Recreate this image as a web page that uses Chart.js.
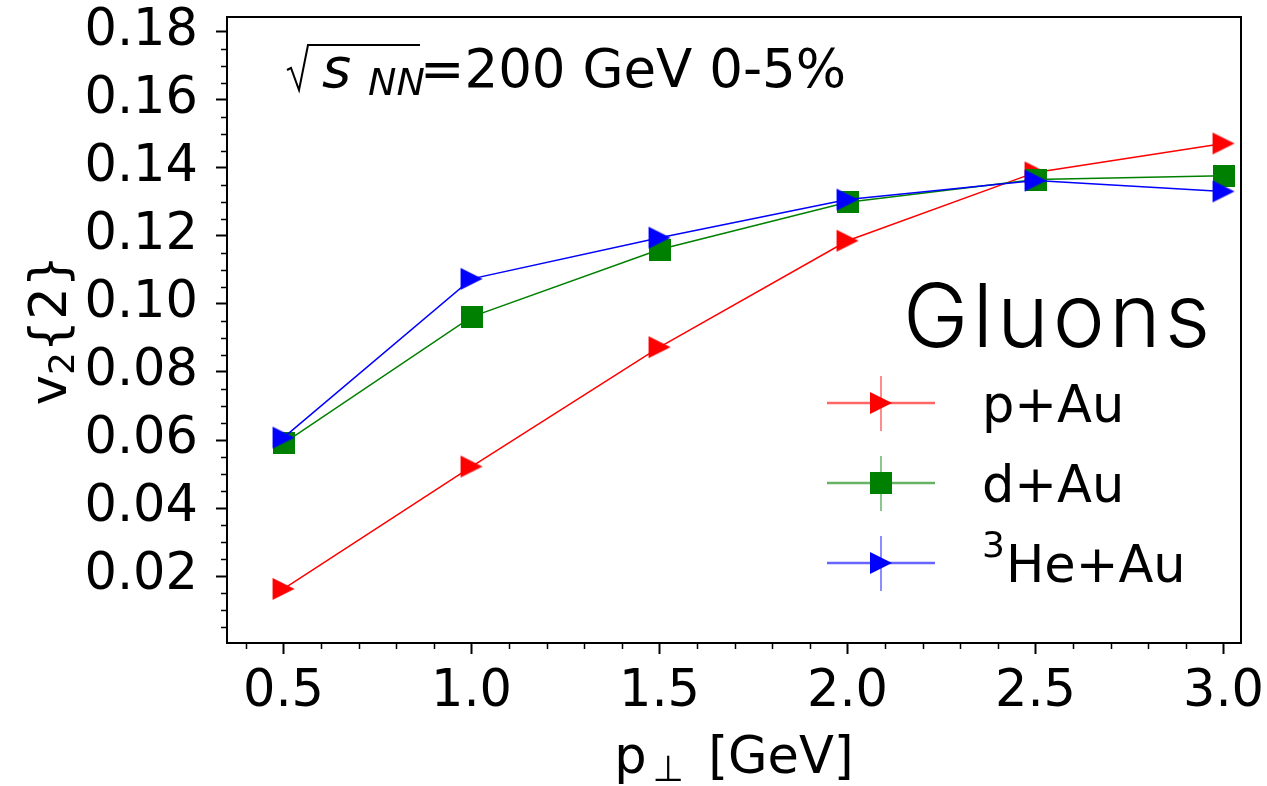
<!DOCTYPE html>
<html>
<head>
<meta charset="utf-8">
<script src="https://cdn.jsdelivr.net/npm/chart.js@4/dist/chart.umd.min.js"></script>
<style>
  body { margin: 0; background: #fff; }
  #wrap { width: 1267px; height: 786px; position: relative; }
</style>
</head>
<body>
<div id="wrap"><canvas id="v2Chart"></canvas></div>
<script>
// p_T bins and v2{2} values
const pT = [0.5, 1.0, 1.5, 2.0, 2.5, 3.0];
const v2pAu = [0.0162, 0.0522, 0.0873, 0.1186, 0.1387, 0.1472];
const v2dAu = [0.0590, 0.0962, 0.1160, 0.1299, 0.1366, 0.1377];
const v2HeAu = [0.0607, 0.1074, 0.1195, 0.1307, 0.1363, 0.1331];

const seriesNames = ['p+Au', 'd+Au', 'He+Au'];
const seriesColors = ['#ff0000', '#008000', '#0000ff'];

const FONT = "'DejaVu Sans', sans-serif";

// matplotlib-like markers as small canvases
function triMarker(color) {
    const c = document.createElement('canvas');
    c.width = 24; c.height = 24;
    const g = c.getContext('2d');
    g.fillStyle = color;
    g.beginPath();
    g.moveTo(1, 1); g.lineTo(23, 12); g.lineTo(1, 23);
    g.closePath();
    g.fill();
    return c;
}
function squareMarker(color) {
    const c = document.createElement('canvas');
    c.width = 22; c.height = 22;
    const g = c.getContext('2d');
    g.fillStyle = color;
    g.fillRect(0, 0, 22, 22);
    return c;
}
const markers = [triMarker(seriesColors[0]), squareMarker(seriesColors[1]), triMarker(seriesColors[2])];

function toPoints(xs, ys) {
    return xs.map((x, i) => ({ x: x, y: ys[i] }));
}

// extra drawing: minor ticks, full frame, legend, labels
const overlay = {
    id: 'overlay',
    afterDraw(chart) {
        const ctx = chart.ctx;
        const a = chart.chartArea;
        const xs = chart.scales.x, ys = chart.scales.y;
        ctx.save();

        // top + right spines
        ctx.strokeStyle = '#000';
        ctx.lineWidth = 2;
        ctx.beginPath();
        ctx.moveTo(a.left, a.top);
        ctx.lineTo(a.right, a.top);
        ctx.lineTo(a.right, a.bottom);
        ctx.stroke();

        // minor ticks
        ctx.lineWidth = 1.5;
        ctx.beginPath();
        for (let i = 4; i <= 30; i++) {
            if (i % 5 === 0) continue;
            const px = Math.round(xs.getPixelForValue(i / 10)) + 0.5;
            if (px < a.left || px > a.right) continue;
            ctx.moveTo(px, a.bottom);
            ctx.lineTo(px, a.bottom + 6);
        }
        for (let i = 1; i <= 36; i++) {
            if (i % 4 === 0) continue;
            const py = Math.round(ys.getPixelForValue(i * 0.005)) + 0.5;
            if (py < a.top || py > a.bottom) continue;
            ctx.moveTo(a.left - 6, py);
            ctx.lineTo(a.left, py);
        }
        ctx.stroke();

        ctx.fillStyle = '#000';
        ctx.textBaseline = 'alphabetic';
        ctx.textAlign = 'left';

        // x title: p_perp [GeV]
        ctx.font = '51px ' + FONT;
        const wP = ctx.measureText('p').width;
        const wRest = ctx.measureText(' [GeV]').width;
        ctx.font = '36px ' + FONT;
        const wPerp = ctx.measureText('\u22A5').width;
        let x0 = (a.left + a.right) / 2 - (wP + 14 + wPerp + wRest) / 2;
        ctx.font = '51px ' + FONT;
        ctx.fillText('p', x0, 773);
        ctx.font = '36px ' + FONT;
        ctx.fillText('\u22A5', x0 + wP + 6, 781);
        ctx.font = '51px ' + FONT;
        ctx.fillText(' [GeV]', x0 + wP + 14 + wPerp, 773);

        // y title: v_2{2}
        ctx.save();
        ctx.translate(66, (a.top + a.bottom) / 2);
        ctx.rotate(-Math.PI / 2);
        ctx.font = '51px ' + FONT;
        const wV = ctx.measureText('v').width;
        const wB = ctx.measureText('{2}').width;
        ctx.font = '36px ' + FONT;
        const wS = ctx.measureText('2').width;
        let t0 = -(wV + wS + wB) / 2;
        ctx.font = '51px ' + FONT;
        ctx.fillText('v', t0, 0);
        ctx.font = '36px ' + FONT;
        ctx.fillText('2', t0 + wV, 8);
        ctx.font = '51px ' + FONT;
        ctx.fillText('{2}', t0 + wV + wS, 0);
        ctx.restore();

        // sqrt(s_NN) = 200 GeV 0-5%
        const base = 87;
        ctx.lineWidth = 2;
        ctx.beginPath();
        ctx.moveTo(287, 70);
        ctx.lineTo(291, 68);
        ctx.lineTo(299, 90);
        ctx.lineTo(308, 45);
        ctx.lineTo(420, 45);
        ctx.stroke();
        ctx.font = 'oblique 56px ' + FONT;
        ctx.fillText('s', 322, base);
        ctx.font = 'oblique 38px ' + FONT;
        ctx.fillText('NN', 368, base + 8);
        ctx.font = '53px ' + FONT;
        ctx.fillText('=200 GeV 0-5%', 420, base);

        // Gluons
        ctx.font = '300 88px Inter, Lato, sans-serif';
        ctx.letterSpacing = '4px';
        ctx.fillText('Gluons', 903, 347);
        ctx.letterSpacing = '0px';

        // legend
        const rows = [403, 483, 563];
        rows.forEach((ly, i) => {
            ctx.strokeStyle = seriesColors[i];
            ctx.globalAlpha = 0.6;
            ctx.lineWidth = 2.5;
            ctx.beginPath();
            ctx.moveTo(827, ly); ctx.lineTo(935, ly);
            ctx.stroke();
            ctx.globalAlpha = 0.45;
            ctx.lineWidth = 2;
            ctx.beginPath();
            ctx.moveTo(881, ly - 27); ctx.lineTo(881, ly + 28);
            ctx.stroke();
            ctx.globalAlpha = 1;
            const m = markers[i];
            ctx.drawImage(m, 881 - m.width / 2, ly - m.height / 2);
            ctx.fillStyle = '#000';
            if (i === 2) {
                ctx.font = '36px ' + FONT;
                ctx.fillText('3', 982, ly - 6);
                ctx.font = '51px ' + FONT;
                ctx.fillText(seriesNames[i], 1006, ly + 19);
            } else {
                ctx.font = '51px ' + FONT;
                ctx.fillText(seriesNames[i], 982, ly + 19);
            }
        });

        ctx.restore();
    }
};

const datasets = [v2pAu, v2dAu, v2HeAu].map((vals, i) => ({
    label: seriesNames[i],
    data: toPoints(pT, vals),
    showLine: true,
    borderColor: seriesColors[i],
    backgroundColor: seriesColors[i],
    borderWidth: 1.5,
    pointStyle: markers[i],
    pointRadius: 11,
    pointHoverRadius: 11,
    order: 3 - i
}));

new Chart(document.getElementById('v2Chart'), {
    type: 'scatter',
    data: { datasets: datasets },
    options: {
        responsive: true,
        maintainAspectRatio: false,
        animation: false,
        layout: { padding: { top: 17, right: 26, left: 0, bottom: 0 } },
        plugins: { legend: { display: false }, tooltip: { enabled: false } },
        scales: {
            x: {
                type: 'linear',
                min: 0.3497,
                max: 3.0465,
                afterFit: s => { s.height = 143; s.paddingLeft = 0; s.paddingRight = 0; },
                ticks: {
                    stepSize: 0.5,
                    includeBounds: false,
                    autoSkip: false,
                    maxRotation: 0,
                    padding: 8,
                    color: '#000',
                    font: { family: 'DejaVu Sans', size: 51 },
                    callback: v => v.toFixed(1)
                },
                grid: { drawOnChartArea: false, tickLength: 11, tickWidth: 2, tickColor: '#000' },
                border: { display: true, color: '#000', width: 2 }
            },
            y: {
                min: 0.0003,
                max: 0.1844,
                afterFit: s => { s.width = 227; s.paddingTop = 0; s.paddingBottom = 0; },
                ticks: {
                    stepSize: 0.02,
                    includeBounds: false,
                    padding: 18,
                    color: '#000',
                    font: { family: 'DejaVu Sans', size: 51 },
                    callback: v => v.toFixed(2)
                },
                grid: { drawOnChartArea: false, tickLength: 11, tickWidth: 2, tickColor: '#000' },
                border: { display: true, color: '#000', width: 2 }
            }
        }
    },
    plugins: [overlay]
});
</script>
</body>
</html>
